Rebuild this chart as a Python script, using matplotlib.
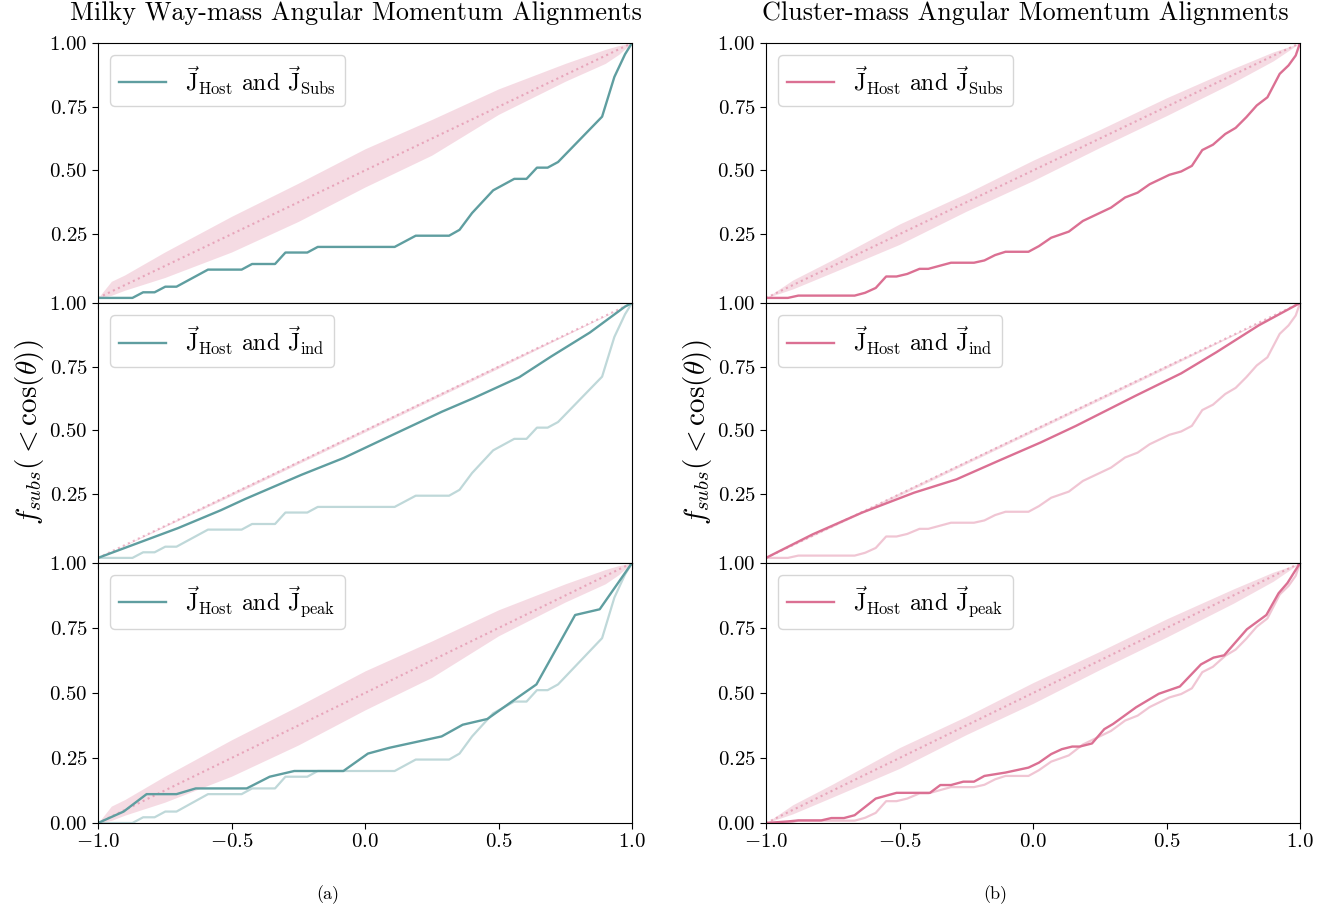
import numpy as np
import matplotlib.pyplot as plt

plt.rcParams['font.family'] = 'serif'
plt.rcParams['font.serif'] = ['cmr10', 'DejaVu Serif']
plt.rcParams['mathtext.fontset'] = 'cm'
plt.rcParams['axes.unicode_minus'] = False

# colours
teal = '#5F9EA0'
pink = '#DB7093'

# ---- Milky Way-mass data ----
mw_subs_x = [-1.0, -0.871, -0.831, -0.788, -0.748, -0.706, -0.588, -0.462, -0.423, -0.337,
             -0.298, -0.216, -0.177, 0.111, 0.190, 0.315, 0.354, 0.401, 0.480, 0.559,
             0.605, 0.644, 0.684, 0.723, 0.888, 0.934, 0.974, 1.0]
mw_subs_y = [0.0, 0.0, 0.022, 0.022, 0.044, 0.044, 0.111, 0.111, 0.133, 0.133,
             0.178, 0.178, 0.2, 0.2, 0.244, 0.244, 0.267, 0.333, 0.422, 0.467,
             0.467, 0.511, 0.511, 0.533, 0.711, 0.867, 0.956, 1.0]

mw_ind_x = [-1.0, -0.70, -0.54, -0.449, -0.238, -0.080, 0.104, 0.289, 0.407, 0.578, 0.697, 0.842, 0.974, 1.0]
mw_ind_y = [0.0, 0.117, 0.187, 0.231, 0.326, 0.392, 0.483, 0.574, 0.627, 0.709, 0.79, 0.884, 0.986, 1.0]

mw_peak_x = [-1.0, -0.904, -0.818, -0.706, -0.634, -0.443, -0.357, -0.265, -0.081, 0.011,
             0.09, 0.287, 0.366, 0.458, 0.55, 0.642, 0.787, 0.879, 1.0]
mw_peak_y = [0.0, 0.044, 0.111, 0.111, 0.133, 0.133, 0.178, 0.2, 0.2, 0.267,
             0.289, 0.333, 0.378, 0.4, 0.467, 0.533, 0.8, 0.822, 1.0]

mw_band_x = [-1.0, -0.95, -0.9, -0.75, -0.5, -0.25, 0.0, 0.25, 0.5, 0.75, 0.9, 0.95, 1.0]
mw_band_lo = [0.0, 0.01, 0.03, 0.08, 0.18, 0.30, 0.435, 0.56, 0.72, 0.85, 0.92, 0.955, 1.0]
mw_band_hi = [0.0, 0.065, 0.09, 0.18, 0.32, 0.45, 0.585, 0.70, 0.82, 0.92, 0.975, 0.99, 1.0]

# ---- Cluster-mass data ----
cl_subs_x = [-1.0, -0.918, -0.879, -0.668, -0.629, -0.589, -0.55, -0.511, -0.471, -0.425,
             -0.392, -0.307, -0.221, -0.182, -0.142, -0.103, -0.017, 0.022, 0.068, 0.134,
             0.187, 0.292, 0.345, 0.392, 0.437, 0.511, 0.555, 0.595, 0.634, 0.674,
             0.72, 0.759, 0.799, 0.838, 0.878, 0.924, 0.957, 0.984, 1.0]
cl_subs_y = [0.0, 0.0, 0.009, 0.009, 0.02, 0.039, 0.084, 0.084, 0.094, 0.114,
             0.114, 0.138, 0.138, 0.147, 0.168, 0.181, 0.181, 0.203, 0.236, 0.26,
             0.302, 0.354, 0.394, 0.413, 0.446, 0.483, 0.496, 0.518, 0.58, 0.601,
             0.643, 0.667, 0.709, 0.755, 0.787, 0.879, 0.912, 0.951, 1.0]

cl_ind_x = [-1.0, -0.826, -0.642, -0.445, -0.287, -0.129, 0.029, 0.161, 0.384, 0.555, 0.687, 0.845, 1.0]
cl_ind_y = [0.0, 0.092, 0.177, 0.256, 0.308, 0.381, 0.453, 0.518, 0.636, 0.724, 0.807, 0.912, 1.0]

cl_peak_x = [-1.0, -0.918, -0.879, -0.793, -0.755, -0.708, -0.668, -0.589, -0.511, -0.386,
             -0.347, -0.307, -0.261, -0.221, -0.182, -0.103, -0.017, 0.022, 0.068, 0.108,
             0.147, 0.175, 0.221, 0.267, 0.3, 0.386, 0.471, 0.55, 0.629, 0.676,
             0.716, 0.801, 0.874, 0.92, 0.953, 1.0]
cl_peak_y = [0.0, 0.006, 0.01, 0.01, 0.019, 0.019, 0.03, 0.094, 0.116, 0.116,
             0.146, 0.146, 0.159, 0.159, 0.181, 0.194, 0.213, 0.232, 0.265, 0.284,
             0.294, 0.294, 0.306, 0.361, 0.381, 0.445, 0.497, 0.525, 0.61, 0.636,
             0.645, 0.745, 0.8, 0.884, 0.923, 1.0]

cl_band_x = [-1.0, -0.9, -0.75, -0.5, -0.25, 0.0, 0.25, 0.5, 0.75, 0.9, 1.0]
cl_band_lo = [0.0, 0.035, 0.10, 0.21, 0.34, 0.46, 0.59, 0.715, 0.845, 0.93, 1.0]
cl_band_hi = [0.0, 0.07, 0.15, 0.29, 0.41, 0.54, 0.66, 0.785, 0.90, 0.965, 1.0]

# narrow band for the "ind" panels
ind_band_x = [-1.0, -0.5, 0.0, 0.5, 1.0]
ind_band_lo = [0.0, 0.244, 0.494, 0.744, 1.0]
ind_band_hi = [0.0, 0.256, 0.506, 0.756, 1.0]

diag_x = [-1.0, 1.0]
diag_y = [0.0, 1.0]

labels = [r'$\vec{\mathrm{J}}_{\mathrm{Host}}$ and $\vec{\mathrm{J}}_{\mathrm{Subs}}$',
          r'$\vec{\mathrm{J}}_{\mathrm{Host}}$ and $\vec{\mathrm{J}}_{\mathrm{ind}}$',
          r'$\vec{\mathrm{J}}_{\mathrm{Host}}$ and $\vec{\mathrm{J}}_{\mathrm{peak}}$']

fig = plt.figure(figsize=(13.41, 9.13), dpi=100)

W = 534 / 1341
H = (823 - 43) / 913 / 3
lefts = [98 / 1341, 766 / 1341]
bottom0 = 1 - 823 / 913

columns = [
    dict(color=teal, subs=(mw_subs_x, mw_subs_y), ind=(mw_ind_x, mw_ind_y),
         peak=(mw_peak_x, mw_peak_y), band=(mw_band_x, mw_band_lo, mw_band_hi)),
    dict(color=pink, subs=(cl_subs_x, cl_subs_y), ind=(cl_ind_x, cl_ind_y),
         peak=(cl_peak_x, cl_peak_y), band=(cl_band_x, cl_band_lo, cl_band_hi)),
]

for c, col in enumerate(columns):
    for r in range(3):
        ax = fig.add_axes([lefts[c], bottom0 + (2 - r) * H, W, H])
        if r == 1:
            bx, blo, bhi = ind_band_x, ind_band_lo, ind_band_hi
        else:
            bx, blo, bhi = col['band']
        ax.fill_between(bx, blo, bhi, color=pink, alpha=0.25, lw=0)
        ax.plot(diag_x, diag_y, ls=':', color=pink, alpha=0.5, lw=1.5)
        if r > 0:
            ax.plot(*col['subs'], color=col['color'], alpha=0.4, lw=1.6)
        key = ['subs', 'ind', 'peak'][r]
        ax.plot(*col[key], color=col['color'], lw=1.7, label=labels[r])
        ax.legend(loc='upper left', fontsize=17, handlelength=2.0, borderpad=0.4,
                  framealpha=0.8, fancybox=True)
        ax.set_xlim(-1, 1)
        ax.set_xticks([-1, -0.5, 0, 0.5, 1])
        if r < 2:
            ax.set_ylim(-0.02, 1.0)
            ax.set_yticks([0.25, 0.5, 0.75, 1.0])
            ax.set_yticklabels([r'$0.25$', r'$0.50$', r'$0.75$', r'$1.00$'])
            ax.set_xticklabels([])
        else:
            ax.set_ylim(0, 1.0)
            ax.set_yticks([0, 0.25, 0.5, 0.75, 1.0])
            ax.set_yticklabels([r'$0.00$', r'$0.25$', r'$0.50$', r'$0.75$', r'$1.00$'])
            ax.set_xticklabels([r'$-1.0$', r'$-0.5$', r'$0.0$', r'$0.5$', r'$1.0$'])
        ax.tick_params(labelsize=15, length=4)

fig.text(356 / 1341, 1 - 13 / 913, 'Milky Way-mass Angular Momentum Alignments',
         ha='center', va='center', fontsize=18.8)
fig.text(1025 / 1341, 1 - 13 / 913, 'Cluster-mass Angular Momentum Alignments',
         ha='center', va='center', fontsize=18.8)

fig.text(30 / 1341, 1 - 432 / 913, r'$f_{subs}(<\cos(\theta))$', rotation=90,
         ha='center', va='center', fontsize=21)
fig.text(697 / 1341, 1 - 432 / 913, r'$f_{subs}(<\cos(\theta))$', rotation=90,
         ha='center', va='center', fontsize=21)

fig.text(328 / 1341, 1 - 895 / 913, '(a)', ha='center', va='center', fontsize=13)
fig.text(995 / 1341, 1 - 895 / 913, '(b)', ha='center', va='center', fontsize=13)

fig.savefig('out.png', dpi=100)
